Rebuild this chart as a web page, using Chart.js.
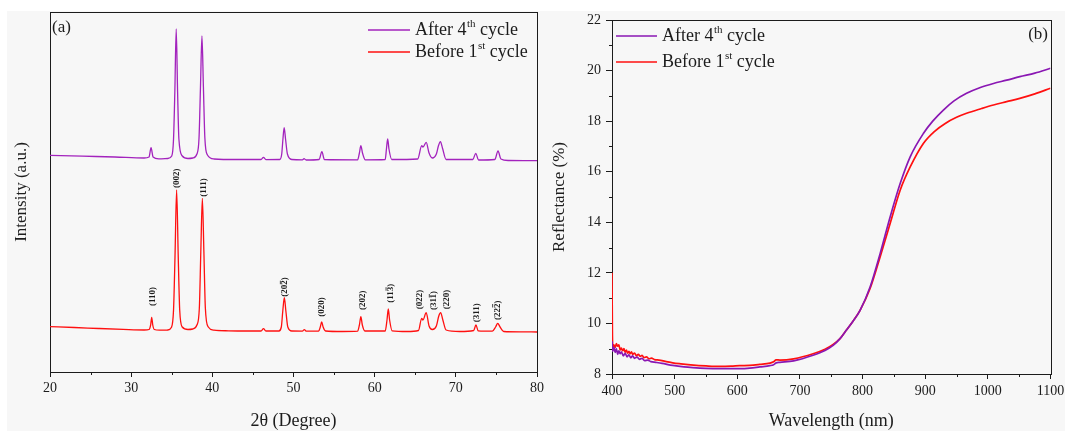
<!DOCTYPE html>
<html lang="en">
<head>
<meta charset="UTF-8">
<title>XRD and reflectance</title>
<script src="https://cdn.jsdelivr.net/npm/chart.js"></script>
<style>
  body { margin: 0; background: #fff; }
  #wrap { position: relative; width: 1065px; height: 431px; overflow: hidden; }
  #sheet { position: absolute; left: 7px; top: 11px; right: 0; bottom: 0; background: #f7f7f7; }
  #xrd { position: absolute; left: 0; top: 0; }
  #refl { position: absolute; left: 540px; top: 0; }
</style>
</head>
<body>
<div id="wrap">
  <div id="sheet"></div>
  <canvas id="xrd" width="552" height="431"></canvas>
  <canvas id="refl" width="525" height="431"></canvas>
</div>
<script>
const seriesNames = ['After 4th cycle', 'Before 1st cycle'];

// (a) XRD patterns, 2θ in degrees, intensity in counts (curves stacked)
const xrdAfterTheta = [20.0, 24.0, 28.0, 31.6, 32.2, 32.45, 32.7, 33.4, 34.5, 35.0, 35.22, 35.38, 35.55, 35.72, 35.88, 36.3,
  37.0, 37.6, 38.1, 38.36, 38.54, 38.72, 38.9, 39.08, 39.4, 40.2, 43.0, 46.0, 46.3, 46.6, 48.3, 48.55, 48.7, 48.85,
  49.02, 49.25, 49.8, 51.1, 51.3, 51.55, 53.15, 53.5, 53.8, 57.9, 58.12, 58.3, 58.5, 58.85, 61.3, 61.45, 61.6, 61.76,
  62.1, 65.3, 65.8, 65.95, 66.35, 66.7, 67.1, 67.6, 67.85, 68.1, 68.35, 68.8, 72.1, 72.45, 72.8, 74.8, 75.2, 75.55,
  76.5, 80.0];
const xrdAfterCounts = [2167, 2158, 2150, 2140, 2150, 2243, 2150, 2132, 2135, 2160, 2330, 2800, 3430, 2800, 2330, 2160,
  2135, 2140, 2180, 2340, 2850, 3360, 2850, 2340, 2170, 2130, 2125, 2125, 2147, 2124, 2125, 2180, 2330, 2443,
  2330, 2180, 2125, 2122, 2133, 2120, 2125, 2203, 2125, 2122, 2190, 2263, 2190, 2122, 2125, 2230, 2330, 2230,
  2125, 2130, 2263, 2250, 2297, 2190, 2140, 2180, 2260, 2303, 2240, 2125, 2125, 2187, 2120, 2125, 2210, 2130,
  2115, 2113];

const xrdBeforeTheta = [20.0, 23.0, 26.0, 29.0, 31.6, 32.2, 32.4, 32.53, 32.66, 32.85, 33.5, 34.5, 34.95, 35.22, 35.4,
  35.6, 35.8, 35.98, 36.3, 37.0, 37.6, 38.1, 38.4, 38.58, 38.77, 38.96, 39.14, 39.5, 40.2, 42.0, 44.0, 46.0, 46.3,
  46.6, 48.2, 48.5, 48.68, 48.87, 49.06, 49.3, 49.8, 51.1, 51.33, 51.6, 53.1, 53.3, 53.47, 53.65, 53.95, 56.0,
  57.9, 58.12, 58.3, 58.48, 58.8, 61.3, 61.52, 61.68, 61.84, 62.15, 64.0, 65.4, 65.79, 65.95, 66.35, 66.7, 67.1,
  67.6, 67.9, 68.13, 68.4, 68.8, 70.5, 72.2, 72.48, 72.75, 74.5, 74.9, 75.16, 75.45, 75.9, 78.0, 80.0];
const xrdBeforeCounts = [453, 445, 435, 426, 420, 425, 470, 547, 470, 425, 418, 420, 445, 620, 1150,
  1820, 1150, 620, 450, 425, 430, 470, 640, 1200, 1737, 1200, 640, 450, 418, 412, 410, 410, 433,
  410, 410, 450, 610, 743, 610, 450, 410, 409, 423, 408, 410, 450, 500, 450, 410, 405,
  408, 470, 553, 470, 410, 410, 520, 630, 520, 412, 405, 415, 537, 520, 593, 460, 425,
  460, 560, 593, 520, 420, 405, 415, 470, 412, 408, 450, 487, 450, 405, 402, 400];

// Miller indices marked on the lower pattern (\u0305 = bar over the preceding digit)
const hklLabels = ['(110)', '(002)', '(111)', '(202\u0305)', '(020)', '(202)', '(113\u0305)', '(022)', '(311\u0305)', '(220)', '(311)', '(222\u0305)'];
const hklTheta = [32.69, 35.6, 38.93, 48.95, 53.5, 58.5, 61.97, 65.58, 67.3, 68.83, 72.52, 75.1];
const hklCounts = [660, 1840, 1753, 753, 553, 620, 693, 627, 620, 627, 497, 520];

// (b) diffuse reflectance, wavelength in nm, reflectance in %
const reflAfterNm = [400, 401, 403, 405, 407, 409, 411, 413, 415, 418, 421, 424, 427, 430, 433, 436, 440, 444, 448,
  452, 457, 462, 470, 480, 497, 515, 529, 550, 572, 604, 620, 636, 652, 658, 662, 668, 690, 721, 740, 753, 764,
  774, 785, 796, 812, 828, 844, 860, 876, 897, 912, 929, 946, 966, 987, 1009, 1030, 1051, 1075, 1100];
const reflAfterPct = [9.3, 8.9, 9.05, 8.85, 9.0, 8.78, 8.92, 8.8, 8.88, 8.72, 8.82, 8.68, 8.76, 8.64, 8.72, 8.62, 8.67, 8.58, 8.62,
  8.53, 8.55, 8.49, 8.46, 8.42, 8.34, 8.28, 8.25, 8.22, 8.21, 8.21, 8.23, 8.28, 8.33, 8.37, 8.44, 8.46, 8.52, 8.74, 8.93, 9.13, 9.4,
  9.73, 10.1, 10.52, 11.44, 12.76, 14.21, 15.53, 16.59, 17.51, 18.0, 18.44, 18.8, 19.1, 19.32, 19.49, 19.62, 19.76, 19.9, 20.09];

const reflBeforeNm = [400, 400.6, 401.5, 403, 405, 407, 409, 411, 413, 415, 417, 419, 421, 423, 425, 427, 429, 431, 433,
  436, 439, 442, 445, 448, 451, 455, 459, 463, 468, 475, 485, 497, 510, 530, 550, 572, 590, 604, 620, 636, 652, 658,
  662, 668, 690, 721, 740, 753, 764, 774, 785, 796, 812, 828, 844, 860, 876, 897, 915, 932, 950, 966, 990, 1009,
  1030, 1051, 1075, 1100];
const reflBeforePct = [12.0, 9.6, 9.05, 9.15, 9.05, 9.2, 9.1, 9.15, 8.95, 9.02, 8.92, 9.0, 8.86, 8.95, 8.82, 8.9, 8.8, 8.88, 8.78,
  8.83, 8.72, 8.78, 8.7, 8.74, 8.65, 8.68, 8.6, 8.63, 8.57, 8.55, 8.5, 8.44, 8.4, 8.35, 8.32, 8.3, 8.31, 8.33, 8.34, 8.38, 8.43, 8.48,
  8.56, 8.55, 8.6, 8.8, 8.98, 9.17, 9.4, 9.73, 10.1, 10.52, 11.38, 12.63, 13.95, 15.27, 16.19, 17.12, 17.6, 17.91, 18.15, 18.31, 18.5, 18.64,
  18.77, 18.9, 19.08, 19.3];

const SERIF = '"Liberation Serif", "Times New Roman", serif';
const INK = '#1c1c1c';
const RED = '#ff1010';

const toPoints = (xs, ys) => xs.map((x, i) => ({ x: x, y: ys[i] }));
const plainNumber = v => String(v);

// box around the plot area, drawn under the curves
const frame = {
  id: 'frame',
  beforeDatasetsDraw(chart) {
    const { ctx, chartArea: a } = chart;
    ctx.save();
    ctx.strokeStyle = INK;
    ctx.lineWidth = 1;
    ctx.strokeRect(Math.round(a.left) + 0.5, Math.round(a.top) + 0.5,
      Math.round(a.right - a.left), Math.round(a.bottom - a.top));
    ctx.restore();
  }
};

// short unlabelled ticks half way between the major ones
const minorTicks = {
  id: 'minorTicks',
  afterDraw(chart, args, opts) {
    const { ctx, chartArea: a, scales } = chart;
    ctx.save();
    ctx.strokeStyle = INK;
    ctx.lineWidth = 1;
    ['x', 'y'].forEach(id => {
      const step = opts[id];
      if (!step) return;
      const s = scales[id];
      for (let v = s.min; v <= s.max + 1e-9; v += step) {
        if (Math.round(v / step) % 2 === 0) continue;
        const p = Math.round(s.getPixelForValue(v)) + 0.5;
        ctx.beginPath();
        if (id === 'x') {
          ctx.moveTo(p, a.bottom);
          ctx.lineTo(p, a.bottom + opts.length);
        } else {
          ctx.moveTo(a.left, p);
          ctx.lineTo(a.left - opts.length, p);
        }
        ctx.stroke();
      }
    });
    ctx.restore();
  }
};

// "After 4th cycle" style text with a raised ordinal suffix
function drawOrdinal(ctx, text, x, y, size) {
  const m = text.match(/^(.*?\d)(st|nd|rd|th)(.*)$/);
  ctx.textBaseline = 'middle';
  ctx.textAlign = 'left';
  ctx.font = size + 'px ' + SERIF;
  if (!m) { ctx.fillText(text, x, y); return; }
  ctx.fillText(m[1], x, y);
  x += ctx.measureText(m[1]).width;
  ctx.font = Math.round(size * 0.6) + 'px ' + SERIF;
  ctx.fillText(m[2], x + 0.5, y - size * 0.33);
  x += ctx.measureText(m[2]).width + 0.5;
  ctx.font = size + 'px ' + SERIF;
  ctx.fillText(m[3], x, y);
}

const seriesLegend = {
  id: 'seriesLegend',
  afterDraw(chart, args, o) {
    const ctx = chart.ctx;
    ctx.save();
    chart.data.datasets.forEach((ds, i) => {
      const y = o.top + i * o.gap;
      ctx.strokeStyle = ds.borderColor;
      ctx.lineWidth = ds.borderWidth;
      ctx.beginPath();
      ctx.moveTo(o.left, y);
      ctx.lineTo(o.left + o.sample, y);
      ctx.stroke();
      ctx.fillStyle = INK;
      drawOrdinal(ctx, ds.label, o.left + o.sample + 5, y, o.size);
    });
    ctx.restore();
  }
};

const panelTag = {
  id: 'panelTag',
  afterDraw(chart, args, o) {
    const ctx = chart.ctx;
    ctx.save();
    ctx.fillStyle = INK;
    ctx.font = o.size + 'px ' + SERIF;
    ctx.textAlign = o.align;
    ctx.textBaseline = 'middle';
    ctx.fillText(o.text, o.x, o.y);
    ctx.restore();
  }
};

// rotated (hkl) labels over the peaks of the lower pattern
const hklMarks = {
  id: 'hklMarks',
  afterDraw(chart) {
    const { ctx, scales } = chart;
    ctx.save();
    ctx.fillStyle = INK;
    ctx.strokeStyle = INK;
    ctx.lineWidth = 0.8;
    ctx.font = 'bold 9px ' + SERIF;
    ctx.textAlign = 'left';
    ctx.textBaseline = 'middle';
    hklLabels.forEach((lab, i) => {
      const px = scales.x.getPixelForValue(hklTheta[i]);
      const py = scales.y.getPixelForValue(hklCounts[i]);
      const bar = lab.indexOf('\u0305');
      const plain = lab.replace('\u0305', '');
      ctx.save();
      ctx.translate(px, py);
      ctx.rotate(-Math.PI / 2);
      ctx.fillText(plain, 0, 0);
      if (bar > 0) {
        const x0 = ctx.measureText(plain.slice(0, bar - 1)).width;
        const w = ctx.measureText(plain.charAt(bar - 1)).width;
        ctx.beginPath();
        ctx.moveTo(x0 + 0.5, -4.6);
        ctx.lineTo(x0 + w - 0.5, -4.6);
        ctx.stroke();
      }
      ctx.restore();
    });
    ctx.restore();
  }
};

Chart.register(frame, minorTicks, seriesLegend, panelTag);

const tickFont = { family: SERIF, size: 14 };

new Chart(document.getElementById('xrd'), {
  type: 'line',
  data: {
    datasets: [{
      label: seriesNames[0],
      data: toPoints(xrdAfterTheta, xrdAfterCounts),
      borderColor: '#a323bd',
      borderWidth: 1.3,
      cubicInterpolationMode: 'monotone'
    }, {
      label: seriesNames[1],
      data: toPoints(xrdBeforeTheta, xrdBeforeCounts),
      borderColor: RED,
      borderWidth: 1.3,
      cubicInterpolationMode: 'monotone'
    }]
  },
  plugins: [hklMarks],
  options: {
    responsive: false,
    animation: false,
    layout: { padding: { top: 12, right: 15, bottom: 0, left: 0 } },
    elements: { point: { radius: 0 } },
    plugins: {
      legend: { display: false },
      tooltip: { enabled: false },
      seriesLegend: { left: 368, top: 30, gap: 22, sample: 42, size: 18 },
      panelTag: { text: '(a)', x: 52, y: 28, size: 17, align: 'left' },
      minorTicks: { x: 5, length: 3 }
    },
    scales: {
      x: {
        type: 'linear',
        min: 20,
        max: 80,
        ticks: { stepSize: 10, font: tickFont, color: INK, padding: 3, callback: plainNumber },
        grid: { drawOnChartArea: false, tickLength: 5, color: INK },
        border: { color: INK },
        title: { display: true, text: '2θ (Degree)', color: INK, font: { family: SERIF, size: 18, lineHeight: 1.1 }, padding: { top: 0, bottom: 0 } },
        afterFit(s) { s.height = 59; s.paddingLeft = 0; s.paddingRight = 0; }
      },
      y: {
        min: 0,
        max: 3600,
        ticks: { display: false },
        grid: { display: false },
        border: { color: INK },
        title: { display: true, text: 'Intensity (a.u.)', color: INK, font: { family: SERIF, size: 17, lineHeight: 1.1 }, padding: { top: 12, bottom: 0 } },
        afterFit(s) { s.width = 50; s.paddingTop = 0; s.paddingBottom = 0; }
      }
    }
  }
});

new Chart(document.getElementById('refl'), {
  type: 'line',
  data: {
    datasets: [{
      label: seriesNames[0],
      data: toPoints(reflAfterNm, reflAfterPct),
      borderColor: '#8a17b3',
      borderWidth: 1.7,
      cubicInterpolationMode: 'monotone'
    }, {
      label: seriesNames[1],
      data: toPoints(reflBeforeNm, reflBeforePct),
      borderColor: RED,
      borderWidth: 1.7,
      cubicInterpolationMode: 'monotone'
    }]
  },
  options: {
    responsive: false,
    animation: false,
    layout: { padding: { top: 20, right: 14.5, bottom: 0, left: 0 } },
    elements: { point: { radius: 0 } },
    plugins: {
      legend: { display: false },
      tooltip: { enabled: false },
      seriesLegend: { left: 76, top: 36, gap: 26, sample: 41, size: 18 },
      panelTag: { text: '(b)', x: 508, y: 35, size: 17, align: 'right' },
      minorTicks: { x: 50, y: 1, length: 3 }
    },
    scales: {
      x: {
        type: 'linear',
        min: 400,
        max: 1100,
        ticks: { stepSize: 100, font: tickFont, color: INK, padding: 4, callback: plainNumber },
        grid: { drawOnChartArea: false, tickLength: 5, color: INK },
        border: { color: INK },
        title: { display: true, text: 'Wavelength (nm)', color: INK, font: { family: SERIF, size: 18, lineHeight: 1.1 }, padding: { top: 0, bottom: 0 } },
        afterFit(s) { s.height = 57; s.paddingLeft = 0; s.paddingRight = 0; }
      },
      y: {
        min: 8,
        max: 22,
        ticks: { stepSize: 2, font: tickFont, color: INK, padding: 5, callback: plainNumber },
        grid: { drawOnChartArea: false, tickLength: 6, color: INK },
        border: { color: INK },
        title: { display: true, text: 'Reflectance (%)', color: INK, font: { family: SERIF, size: 17, lineHeight: 1.1 }, padding: { top: 10, bottom: 0 } },
        afterFit(s) { s.width = 72; s.paddingTop = 0; s.paddingBottom = 0; }
      }
    }
  }
});
</script>
</body>
</html>
